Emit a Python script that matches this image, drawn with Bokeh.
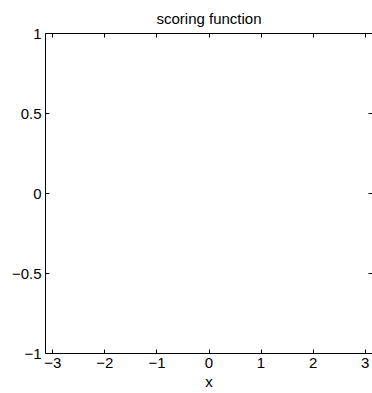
import math
from bokeh.plotting import figure
from bokeh.models import Range1d, LinearAxis, FixedTicker
from bokeh.embed import file_html
from bokeh.resources import INLINE

# Data (the reference axes are empty)
curve_x = []
curve_y = []

x_min, x_max = -math.pi, math.pi
y_min, y_max = -1, 1
x_ticks = [-3, -2, -1, 0, 1, 2, 3]
x_tick_labels = ["\u22123", "\u22122", "\u22121", "0", "1", "2", "3"]
y_ticks = [-1, -0.5, 0, 0.5, 1]
y_tick_labels = ["\u22121", "\u22120.5", "0", "0.5", "1"]

title_text = "scoring function"
x_label = "x"

FONT = "Liberation Sans"
FS = "15px"

p = figure(width=372, height=393, output_backend="svg", toolbar_location=None,
           x_range=Range1d(x_min, x_max), y_range=Range1d(y_min, y_max),
           x_axis_type=None, y_axis_type=None,
           min_border_left=45, min_border_right=0, min_border_top=33,
           min_border_bottom=40)
p.outline_line_color = None
p.grid.visible = False
p.background_fill_color = "white"
p.border_fill_color = "white"

p.title.text = title_text
p.title.align = "center"
p.title.text_font = FONT
p.title.text_font_size = FS
p.title.text_font_style = "normal"
p.title.text_color = "black"
p.title.standoff = 13

p.line(curve_x, curve_y, line_color="blue", line_width=1)


def make_axis(ticks, labels, show_labels=True, show_line=True, axis_label=None):
    ax = LinearAxis(ticker=FixedTicker(ticks=ticks))
    ax.major_label_overrides = {t: l for t, l in zip(ticks, labels)}
    ax.major_tick_in = 4
    ax.major_tick_out = 0
    ax.major_tick_line_color = "black"
    ax.minor_tick_line_color = None
    ax.axis_line_color = "black" if show_line else None
    ax.axis_line_width = 1
    ax.major_label_text_font = FONT
    if show_labels:
        ax.major_label_text_color = "black"
        ax.major_label_text_font_size = FS
        ax.major_label_standoff = 4
    else:
        ax.major_label_text_color = None
        ax.major_label_text_font_size = "1px"
        ax.major_label_standoff = 0
    if axis_label:
        ax.axis_label = axis_label
        ax.axis_label_text_font = FONT
        ax.axis_label_text_font_size = FS
        ax.axis_label_text_font_style = "normal"
        ax.axis_label_text_color = "black"
        ax.axis_label_standoff = 2
    return ax


p.add_layout(make_axis(x_ticks, x_tick_labels, axis_label=x_label), "below")
p.add_layout(make_axis(y_ticks, y_tick_labels), "left")
p.add_layout(make_axis(x_ticks, x_tick_labels, show_labels=False), "above")
p.add_layout(make_axis(y_ticks, y_tick_labels, show_labels=False, show_line=False), "right")

open("out.html", "w").write(file_html(p, INLINE))
